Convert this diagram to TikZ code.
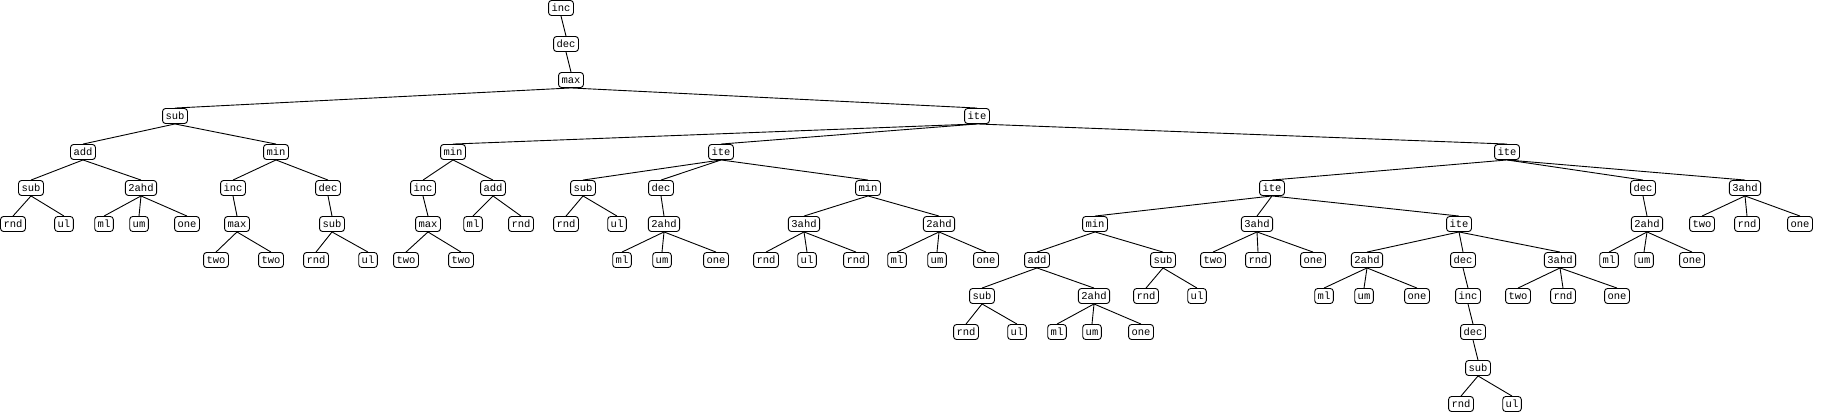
\documentclass[tikz,border=0pt]{standalone}
\usepackage{fontspec}
\setmonofont{Liberation Mono}
\usepackage{tikz}

\tikzset{
  op/.style={draw, rounded corners=3pt, line width=0.9pt, fill=white,
    font=\ttfamily\fontsize{10.5}{10.5}\selectfont,
    inner xsep=3pt, inner ysep=3pt, text height=7.5pt, text depth=1.5pt},
  edge/.style={line width=0.9pt}
}

\begin{document}
\begin{tikzpicture}[x=1pt, y=-1pt]
    \useasboundingbox (0,0) rectangle (1830,413);% Keeps the page size

    % Root chain
    \node[op] (n0) at (561,8)  {inc};
    \node[op] (n1) at (566,44) {dec};
    \node[op] (n2) at (571,80) {max};

    % Level 3
    \node[op] (a) at (175,116) {sub};
    \node[op] (b) at (977,116) {ite};

    % Level 4
    \node[op] (aa) at (83,152)   {add};
    \node[op] (ab) at (276,152)  {min};
    \node[op] (ba) at (453,152)  {min};
    \node[op] (bb) at (721,152)  {ite};
    \node[op] (bc) at (1507,152) {ite};

    % Level 5
    \node[op] (aaa) at (31,188)   {sub};
    \node[op] (aab) at (141,188)  {2ahd};
    \node[op] (aba) at (233,188)  {inc};
    \node[op] (abb) at (328,188)  {dec};
    \node[op] (baa) at (423,188)  {inc};
    \node[op] (bab) at (493,188)  {add};
    \node[op] (bba) at (583,188)  {sub};
    \node[op] (bbb) at (661,188)  {dec};
    \node[op] (bbc) at (868,188)  {min};
    \node[op] (bca) at (1272,188) {ite};
    \node[op] (bcb) at (1643,188) {dec};
    \node[op] (bcc) at (1745,188) {3ahd};

    % Level 6
    \node[op] (aaaa) at (13,224)   {rnd};
    \node[op] (aaab) at (64,224)   {ul};
    \node[op] (aaba) at (104,224)  {ml};
    \node[op] (aabb) at (139,224)  {um};
    \node[op] (aabc) at (187,224)  {one};
    \node[op] (abaa) at (237,224)  {max};
    \node[op] (abba) at (332,224)  {sub};
    \node[op] (baaa) at (428,224)  {max};
    \node[op] (baba) at (473,224)  {ml};
    \node[op] (babb) at (521,224)  {rnd};
    \node[op] (bbaa) at (566,224)  {rnd};
    \node[op] (bbab) at (617,224)  {ul};
    \node[op] (bbba) at (664,224)  {2ahd};
    \node[op] (bbca) at (804,224)  {3ahd};
    \node[op] (bbcb) at (939,224)  {2ahd};
    \node[op] (bcaa) at (1095,224) {min};
    \node[op] (bcab) at (1257,224) {3ahd};
    \node[op] (bcac) at (1459,224) {ite};
    \node[op] (bcba) at (1647,224) {2ahd};
    \node[op] (bcca) at (1702,224) {two};
    \node[op] (bccb) at (1747,224) {rnd};
    \node[op] (bccc) at (1800,224) {one};

    % Level 7
    \node[op] (abaaa) at (216,260)  {two};
    \node[op] (abaab) at (271,260)  {two};
    \node[op] (abbaa) at (316,260)  {rnd};
    \node[op] (abbab) at (368,260)  {ul};
    \node[op] (baaaa) at (406,260)  {two};
    \node[op] (baaab) at (461,260)  {two};
    \node[op] (bbbaa) at (622,260)  {ml};
    \node[op] (bbbab) at (662,260)  {um};
    \node[op] (bbbac) at (716,260)  {one};
    \node[op] (bbcaa) at (766,260)  {rnd};
    \node[op] (bbcab) at (807,260)  {ul};
    \node[op] (bbcac) at (856,260)  {rnd};
    \node[op] (bbcba) at (897,260)  {ml};
    \node[op] (bbcbb) at (937,260)  {um};
    \node[op] (bbcbc) at (986,260)  {one};
    \node[op] (bcaaa) at (1037,260) {add};
    \node[op] (bcaab) at (1163,260) {sub};
    \node[op] (bcaba) at (1213,260) {two};
    \node[op] (bcabb) at (1258,260) {rnd};
    \node[op] (bcabc) at (1313,260) {one};
    \node[op] (bcaca) at (1367,260) {2ahd};
    \node[op] (bcacb) at (1463,260) {dec};
    \node[op] (bcacc) at (1560,260) {3ahd};
    \node[op] (bcbaa) at (1609,260) {ml};
    \node[op] (bcbab) at (1644,260) {um};
    \node[op] (bcbac) at (1692,260) {one};

    % Level 8
    \node[op] (bcaaaa) at (982,296)  {sub};
    \node[op] (bcaaab) at (1094,296) {2ahd};
    \node[op] (bcaaba) at (1146,296) {rnd};
    \node[op] (bcaabb) at (1197,296) {ul};
    \node[op] (bcacaa) at (1324,296) {ml};
    \node[op] (bcacab) at (1364,296) {um};
    \node[op] (bcacac) at (1417,296) {one};
    \node[op] (bcacba) at (1468,296) {inc};
    \node[op] (bcacca) at (1518,296) {two};
    \node[op] (bcaccb) at (1563,296) {rnd};
    \node[op] (bcaccc) at (1617,296) {one};

    % Level 9 and below
    \node[op] (bcaaaaa) at (966,332)  {rnd};
    \node[op] (bcaaaab) at (1017,332) {ul};
    \node[op] (bcaaaba) at (1057,332) {ml};
    \node[op] (bcaaabb) at (1092,332) {um};
    \node[op] (bcaaabc) at (1141,332) {one};
    \node[op] (bcacbaa) at (1473,332) {dec};
    \node[op] (bcacbaaa) at (1478,368) {sub};
    \node[op] (bcacbaaaa) at (1461,404) {rnd};
    \node[op] (bcacbaaab) at (1512,404) {ul};

    % Parent -- child connectors
    \foreach \p/\c in {n0/n1, n1/n2, n2/a, n2/b,
        a/aa, a/ab, b/ba, b/bb, b/bc,
        aa/aaa, aa/aab, ab/aba, ab/abb, ba/baa, ba/bab,
        bb/bba, bb/bbb, bb/bbc, bc/bca, bc/bcb, bc/bcc,
        aaa/aaaa, aaa/aaab, aab/aaba, aab/aabb, aab/aabc,
        aba/abaa, abb/abba, baa/baaa, bab/baba, bab/babb,
        bba/bbaa, bba/bbab, bbb/bbba, bbc/bbca, bbc/bbcb,
        bca/bcaa, bca/bcab, bca/bcac, bcb/bcba,
        bcc/bcca, bcc/bccb, bcc/bccc,
        abaa/abaaa, abaa/abaab, abba/abbaa, abba/abbab,
        baaa/baaaa, baaa/baaab, bbba/bbbaa, bbba/bbbab, bbba/bbbac,
        bbca/bbcaa, bbca/bbcab, bbca/bbcac,
        bbcb/bbcba, bbcb/bbcbb, bbcb/bbcbc,
        bcaa/bcaaa, bcaa/bcaab, bcab/bcaba, bcab/bcabb, bcab/bcabc,
        bcac/bcaca, bcac/bcacb, bcac/bcacc,
        bcba/bcbaa, bcba/bcbab, bcba/bcbac,
        bcaaa/bcaaaa, bcaaa/bcaaab, bcaab/bcaaba, bcaab/bcaabb,
        bcaca/bcacaa, bcaca/bcacab, bcaca/bcacac, bcacb/bcacba,
        bcacc/bcacca, bcacc/bcaccb, bcacc/bcaccc,
        bcaaaa/bcaaaaa, bcaaaa/bcaaaab,
        bcaaab/bcaaaba, bcaaab/bcaaabb, bcaaab/bcaaabc,
        bcacba/bcacbaa, bcacbaa/bcacbaaa,
        bcacbaaa/bcacbaaaa, bcacbaaa/bcacbaaab}{
      \draw[edge] (\p.south) -- (\c.north);
    }
\end{tikzpicture}
\end{document}
